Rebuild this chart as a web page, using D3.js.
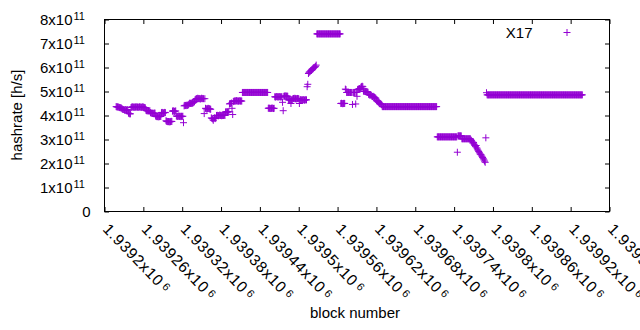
<!DOCTYPE html>
<html><head><meta charset="utf-8">
<script src="https://cdn.jsdelivr.net/npm/d3@7"></script>
<style>
body{margin:0;background:#fff}
svg{display:block}
text{font-family:"Liberation Sans",Arial,sans-serif;fill:#000}
</style>
</head><body>
<svg id="chart" width="640" height="330"></svg>
<script>
// ---------- data ----------
const seriesName = "X17";
const firstBlock = 1939218;           // block number of the first value below (one value per block)
const hashrateE11 = [                 // hashrate in units of 1e11 h/s
  4.37,4.36,4.36,4.35,4.35,4.33,4.33,4.32,4.31,
  4.28,4.26,4.25,4.25,4.22,4.25,4.24,4.22,4.25,4.23,
  4.10,4.08,4.07,4.07,
  4.33,4.35,4.36,4.35,4.35,4.34,4.36,4.35,4.35,4.36,4.35,4.34,4.35,4.36,4.35,4.35,4.34,4.35,4.36,4.35,4.34,4.33,4.32,
  4.22,4.20,4.20,4.19,4.20,4.18,4.20,
  4.12,4.10,4.10,4.09,4.10,4.08,4.10,4.10,
  3.98,3.96,3.95,3.96,3.94,3.96,3.95,3.97,3.96,
  4.12,4.13,4.12,4.10,4.12,4.13,4.12,
  3.78,3.76,3.75,3.74,3.75,3.73,3.75,3.74,3.76,3.75,
  4.18,4.20,4.18,4.17,4.18,4.19,
  3.98,3.97,3.96,3.97,3.98,3.96,3.97,3.95,3.97,3.96,3.97,
  3.70,
  4.40,4.42,4.42,4.41,4.43,4.42,4.44,4.45,
  4.50,4.52,4.50,4.51,4.50,4.52,4.53,4.55,4.58,
  4.66,4.68,4.70,4.70,4.72,4.70,4.71,4.70,4.69,4.70,4.72,4.70,4.71,4.70,
  4.08,
  4.70,
  4.30,4.28,4.27,4.28,4.30,4.29,4.28,4.27,4.26,
  3.90,3.88,3.86,3.80,3.88,3.90,3.87,3.89,
  4.00,4.01,4.00,3.99,4.00,4.02,4.00,4.01,3.99,4.00,4.01,4.00,4.02,4.00,
  4.15,4.14,4.16,4.15,4.14,4.16,
  4.48,4.50,4.50,4.52,
  4.30,4.04,
  4.58,4.60,4.60,4.61,4.60,4.62,4.60,4.61,4.60,4.60,4.62,4.60,4.61,4.60,
  4.96,4.96,4.96,4.96,4.96,4.96,4.96,4.96,4.96,4.96,
  4.96,4.96,4.96,4.96,4.96,4.96,4.96,4.96,4.96,4.96,
  4.96,4.96,4.96,4.96,4.96,4.96,4.96,4.96,4.96,4.96,
  4.96,4.96,4.96,4.96,4.96,4.96,4.96,4.96,4.96,4.96,
  4.30,4.31,4.30,4.29,4.30,4.30,4.31,4.30,4.29,4.30,
  4.78,4.77,4.78,4.79,4.78,4.77,4.78,4.78,4.79,4.77,4.78,4.78,
  4.55,4.20,
  4.80,4.81,4.80,4.82,4.80,4.81,4.80,
  4.65,4.66,4.64,4.65,4.50,4.65,4.66,
  4.70,4.71,4.70,4.72,4.70,4.69,4.70,4.71,4.70,4.70,
  4.50,4.65,4.66,4.65,4.64,4.65,4.66,4.65,4.64,4.65,4.66,4.65,
  5.20,5.30,
  5.75,5.80,5.82,5.85,5.88,5.90,5.93,5.95,5.98,6.00,6.02,6.05,6.10,
  7.40,7.40,7.40,7.40,7.40,7.40,7.40,7.40,7.40,7.40,
  7.40,7.40,7.40,7.40,7.40,7.40,7.40,7.40,7.40,7.40,
  7.40,7.40,7.40,7.40,7.40,7.40,7.40,7.40,7.40,7.40,
  7.40,7.40,7.40,7.40,7.40,7.40,7.40,
  4.50,4.51,4.50,4.49,4.50,4.51,4.50,
  5.10,5.08,
  4.96,4.96,4.96,4.96,4.96,4.96,4.96,4.96,4.96,4.46,4.96,4.96,4.96,4.96,
  4.48,4.96,4.80,
  5.08,5.10,5.10,5.12,5.10,
  5.18,5.20,5.22,5.20,
  5.02,5.00,5.01,5.00,4.99,5.00,4.98,4.97,
  4.88,4.86,4.85,4.86,4.84,
  4.80,4.79,4.80,4.78,4.76,4.74,4.72,
  4.62,4.60,4.58,4.55,4.55,4.52,4.50,4.48,4.45,
  4.37,4.37,4.37,4.37,4.37,4.37,4.37,4.37,4.37,4.37,
  4.37,4.37,4.37,4.37,4.37,4.37,4.37,4.37,4.37,4.37,
  4.37,4.37,4.37,4.37,4.37,4.37,4.37,4.37,4.37,4.37,
  4.37,4.37,4.37,4.37,4.37,4.37,4.37,4.37,4.37,4.37,
  4.37,4.37,4.37,4.37,4.37,4.37,4.37,4.37,4.37,4.37,
  4.37,4.37,4.37,4.37,4.37,4.37,4.37,4.37,4.37,4.37,
  4.37,4.37,4.37,4.37,4.37,4.37,4.37,4.37,4.37,4.37,
  4.37,4.37,4.37,4.37,4.37,4.37,4.37,4.37,4.37,4.37,
  4.37,4.37,4.37,4.37,4.37,
  3.11,3.11,3.11,3.11,3.11,3.11,3.11,3.11,3.11,3.11,
  3.11,3.11,3.11,3.11,3.11,3.11,3.11,3.11,3.11,3.11,
  3.11,3.11,3.11,3.11,3.11,3.11,3.11,3.11,3.11,3.11,
  3.11,
  2.47,
  3.15,3.15,3.15,3.15,3.15,3.15,
  3.03,3.03,3.03,3.03,3.03,3.03,3.03,3.03,3.03,3.03,3.03,3.03,3.03,3.03,
  2.98,2.95,2.90,2.85,2.88,2.80,2.75,2.70,2.75,2.65,2.60,2.55,2.50,2.45,2.40,2.38,2.35,2.30,2.25,2.20,2.15,2.10,2.05,
  3.07,
  4.95,
  4.86,4.86,4.86,4.86,4.86,4.86,4.86,4.86,4.86,4.86,
  4.86,4.86,4.86,4.86,4.86,4.86,4.86,4.86,4.86,4.86,
  4.86,4.86,4.86,4.86,4.86,4.86,4.86,4.86,4.86,4.86,
  4.86,4.86,4.86,4.86,4.86,4.86,4.86,4.86,4.86,4.86,
  4.86,4.86,4.86,4.86,4.86,4.86,4.86,4.86,4.86,4.86,
  4.86,4.86,4.86,4.86,4.86,4.86,4.86,4.86,4.86,4.86,
  4.86,4.86,4.86,4.86,4.86,4.86,4.86,4.86,4.86,4.86,
  4.86,4.86,4.86,4.86,4.86,4.86,4.86,4.86,4.86,4.86,
  4.86,4.86,4.86,4.86,4.86,4.86,4.86,4.86,4.86,4.86,
  4.86,4.86,4.86,4.86,4.86,4.86,4.86,4.86,4.86,4.86,
  4.86,4.86,4.86,4.86,4.86,4.86,4.86,4.86,4.86,4.86,
  4.86,4.86,4.86,4.86,4.86,4.86,4.86,4.86,4.86,4.86,
  4.86,4.86,4.86,4.86,4.86,4.86,4.86,4.86,4.86,4.86,
  4.86,4.86,4.86,4.86,4.86,4.86,4.86,4.86,4.86,4.86,
  4.86,4.86,4.86,4.86,4.86,4.86,4.86,4.86
];
const xTicks = [1939200,1939260,1939320,1939380,1939440,1939500,1939560,1939620,1939680,1939740,1939800,1939860,1939920,1939980];
const xTickLabels = ["1.9392","1.93926","1.93932","1.93938","1.93944","1.9395","1.93956","1.93962","1.93968","1.93974","1.9398","1.93986","1.93992","1.93998"];
const xTickExp = "6";
const yTicks = [0,1,2,3,4,5,6,7,8];
const yTickLabels = ["0","1x10","2x10","3x10","4x10","5x10","6x10","7x10","8x10"];
const yTickExp = "11";
const xTitle = "block number";
const yTitle = "hashrate [h/s]";

// ---------- drawing ----------
const color = "#9400d3";
const L = 104.5, R = 609.5, T = 19.5, B = 211.5;
const svg = d3.select("#chart");
const x = d3.scaleLinear().domain([xTicks[0], xTicks[xTicks.length-1]]).range([L, R]);
const y = d3.scaleLinear().domain([0, 8]).range([B, T]);

const points = hashrateE11.map((v, i) => ({block: firstBlock + i, v}));

// axes (ticks inward, mirrored)
const tk = 4.5;
svg.append("g").attr("transform", `translate(0,${B})`)
  .call(d3.axisBottom(x).tickValues(xTicks).tickSizeInner(-tk).tickSizeOuter(0).tickFormat(""));
svg.append("g").attr("transform", `translate(0,${T})`)
  .call(d3.axisTop(x).tickValues(xTicks).tickSizeInner(-tk).tickSizeOuter(0).tickFormat(""));
svg.append("g").attr("transform", `translate(${L},0)`)
  .call(d3.axisLeft(y).tickValues(yTicks).tickSizeInner(-tk).tickSizeOuter(0).tickFormat(""));
svg.append("g").attr("transform", `translate(${R},0)`)
  .call(d3.axisRight(y).tickValues(yTicks).tickSizeInner(-tk).tickSizeOuter(0).tickFormat(""));
svg.selectAll(".domain").remove();
svg.selectAll(".tick line").attr("stroke", "#000").attr("stroke-width", 1);
svg.append("rect").attr("x", L).attr("y", T).attr("width", R - L).attr("height", B - T)
  .attr("fill", "none").attr("stroke", "#000").attr("stroke-width", 1);

// y tick labels
const yl = svg.append("g").attr("font-size", 15);
yTicks.forEach((t, i) => {
  if (yTickLabels[i] === "0") {
    yl.append("text").attr("x", 90.5).attr("y", y(t) + 5).attr("text-anchor", "end").text(yTickLabels[i]);
  } else {
    yl.append("text").attr("x", 72.5).attr("y", y(t) + 5).attr("text-anchor", "end").text(yTickLabels[i]);
    yl.append("text").attr("x", 73.5).attr("y", y(t)).attr("font-size", 11).text(yTickExp);
  }
});

// x tick labels (rotated)
const xl = svg.append("g").attr("font-size", 15.5).attr("letter-spacing", 0.8);
xTicks.forEach((t, i) => {
  const tx = xl.append("text").attr("transform", `translate(${x(t) - 2.5},230) rotate(46)`);
  tx.append("tspan").text(xTickLabels[i] + "x10");
  tx.append("tspan").attr("dx", 3).attr("dy", -3).attr("font-size", 11).text(xTickExp);
});

// titles
svg.append("text").attr("x", 355).attr("y", 318).attr("text-anchor", "middle").attr("font-size", 15).text(xTitle);
svg.append("text").attr("transform", "translate(21.5,115) rotate(-90)").attr("text-anchor", "middle")
  .attr("font-size", 15).text(yTitle);

// points
const plus = "M-3.5,0h7M0,-3.5v7";
svg.append("g").selectAll("path").data(points).join("path")
  .attr("transform", d => `translate(${x(d.block)},${y(d.v)})`)
  .attr("d", plus).attr("fill", "none").attr("stroke", color).attr("stroke-width", 1);

// legend
svg.append("text").attr("x", 532.5).attr("y", 37.5).attr("text-anchor", "end").attr("font-size", 15).text(seriesName);
svg.append("path").attr("transform", "translate(567,32.5)").attr("d", plus)
  .attr("fill", "none").attr("stroke", color).attr("stroke-width", 1);
</script>
</body></html>
